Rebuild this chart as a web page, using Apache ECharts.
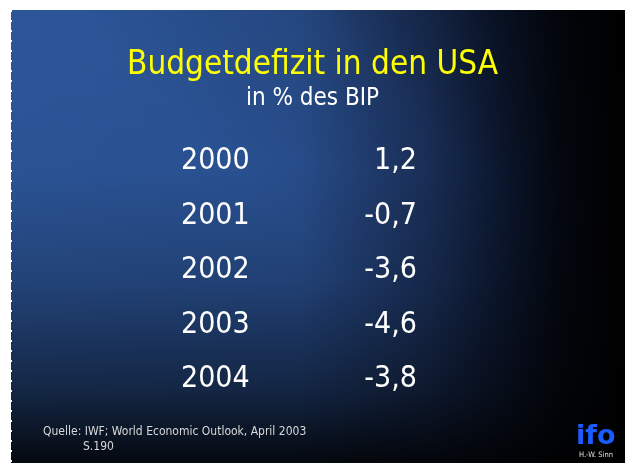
<!DOCTYPE html>
<html>
<head>
<meta charset="utf-8">
<script src="https://cdn.jsdelivr.net/npm/echarts@6/dist/echarts.min.js"></script>
<style>
html, body { margin: 0; padding: 0; background: #fff; }
#container { width: 625px; height: 463px; }
</style>
</head>
<body>
<div id="container"></div>
<script>
var dom = document.getElementById("container");
var myChart = echarts.init(dom);

// Budgetdefizit in % des BIP
var years = ['2000', '2001', '2002', '2003', '2004'];
var defizit = [1.2, -0.7, -3.6, -4.6, -3.8];

var font = '"DejaVu Sans Condensed", "DejaVu Sans", sans-serif';

function fmt(v) {
    return v.toFixed(1).replace('.', ',')
}

var option = {
    animation: false,
    graphic: [
        // Folienhintergrund: blau -> schwarz nach rechts, unten und oben rechts abgedunkelt
        {
            type: 'rect',
            z: -10,
            shape: { x: 11, y: 10, width: 614, height: 453 },
            style: {
                fill: {
                    type: 'linear', x: 0, y: 0, x2: 1, y2: 0,
                    colorStops: [
                        { offset: 0, color: '#2c5699' },
                        { offset: 0.47, color: '#2a5294' },
                        { offset: 0.68, color: '#1d3563' },
                        { offset: 0.80, color: '#0e1c38' },
                        { offset: 0.89, color: '#050a15' },
                        { offset: 1, color: '#000000' }
                    ]
                }
            }
        },
        {
            type: 'rect',
            z: -9,
            shape: { x: 11, y: 10, width: 614, height: 453 },
            style: {
                fill: {
                    type: 'linear', x: 0, y: 0, x2: 0, y2: 1,
                    colorStops: [
                        { offset: 0, color: 'rgba(0,0,0,0)' },
                        { offset: 0.35, color: 'rgba(0,0,0,0.03)' },
                        { offset: 0.6, color: 'rgba(0,0,0,0.22)' },
                        { offset: 0.84, color: 'rgba(0,0,0,0.55)' },
                        { offset: 1, color: 'rgba(0,0,0,0.9)' }
                    ]
                }
            }
        },
        {
            type: 'rect',
            z: -9,
            shape: { x: 11, y: 10, width: 614, height: 453 },
            style: {
                fill: {
                    type: 'linear', x: 0.5, y: 0.55, x2: 0.9, y2: 0,
                    colorStops: [
                        { offset: 0, color: 'rgba(0,0,0,0)' },
                        { offset: 0.5, color: 'rgba(0,0,0,0.15)' },
                        { offset: 1, color: 'rgba(0,0,0,0.5)' }
                    ]
                }
            }
        },
        {
            type: 'line',
            z: -8,
            shape: { x1: 11.5, y1: 10, x2: 11.5, y2: 463 },
            style: { stroke: '#ffffff', lineWidth: 1, lineDash: [2, 8] }
        },
        {
            type: 'text',
            left: 43, top: 426,
            style: {
                text: 'Quelle: IWF; World Economic Outlook, April 2003',
                fill: '#d8d8d8',
                font: '12px ' + font
            }
        },
        {
            type: 'text',
            left: 83, top: 441,
            style: {
                text: 'S.190',
                fill: '#d8d8d8',
                font: '12px ' + font
            }
        },
        // ifo Logo
        {
            type: 'text',
            left: 576, top: 423,
            style: {
                text: 'ifo',
                fill: '#1a5cff',
                font: 'bold 27px "DejaVu Sans", sans-serif'
            }
        },
        {
            type: 'text',
            left: 579, top: 451,
            style: {
                text: 'H.-W. Sinn',
                fill: '#e0e0e0',
                font: '7.5px ' + font
            }
        }
    ],
    title: {
        text: 'Budgetdefizit in den USA',
        subtext: 'in % des BIP',
        left: 'center',
        top: 44,
        itemGap: 5,
        textStyle: { color: '#ffff00', fontSize: 33, fontWeight: 'normal', fontFamily: font },
        subtextStyle: { color: '#ffffff', fontSize: 24, fontFamily: font }
    },
    grid: { left: 181, right: 208, top: 134, bottom: 56 },
    xAxis: { type: 'value', min: 0, max: 1, show: false },
    yAxis: { type: 'category', data: years, inverse: true, show: false },
    series: [{
        type: 'scatter',
        symbolSize: 0,
        silent: true,
        itemStyle: { opacity: 1 },
        data: years.map(function (y) { return [0, y]; }),
        label: {
            show: true, position: 'inside', align: 'left', verticalAlign: 'middle',
            color: '#ffffff', fontSize: 30, fontFamily: font,
            formatter: function (p) { return p.value[1]; }
        }
    }, {
        type: 'scatter',
        symbolSize: 0,
        silent: true,
        itemStyle: { opacity: 1 },
        data: defizit.map(function (v, i) { return [1, years[i], v]; }),
        label: {
            show: true, position: 'inside', align: 'right', verticalAlign: 'middle',
            color: '#ffffff', fontSize: 30, fontFamily: font,
            formatter: function (p) { return fmt(p.value[2]); }
        }
    }]
};
myChart.setOption(option);
</script>
</body>
</html>
